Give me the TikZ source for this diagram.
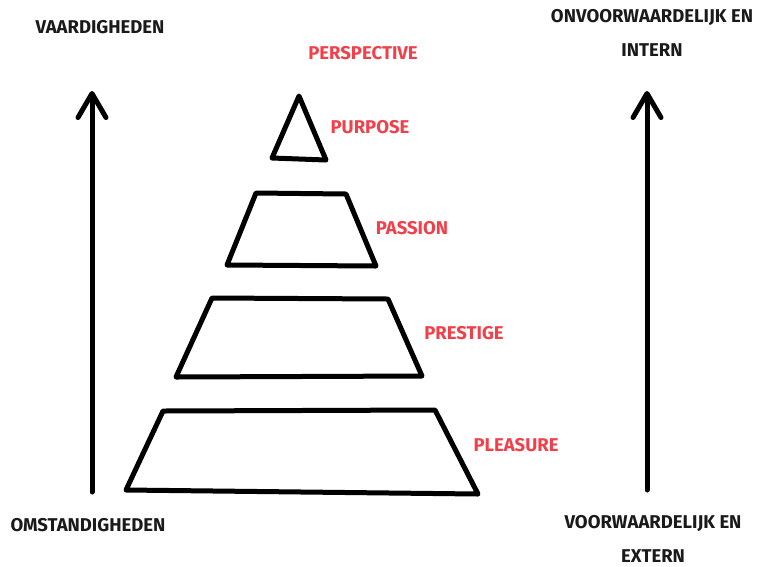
\documentclass[tikz,border=0pt]{standalone}
\usepackage{fontspec}
\setmainfont{Fira Sans}
\usetikzlibrary{arrows.meta}
\definecolor{lblred}{HTML}{F2404A}
\definecolor{ink}{HTML}{1A1A1A}
\tikzset{
  shapeline/.style={draw=black, line width=5pt, line join=round, line cap=round},
  bigarrow/.style={draw=black, line width=5pt, line cap=round, -{Straight Barb[length=24pt,width=28pt,round]}},
  redlbl/.style={text=lblred, font=\fontsize{18.5}{22}\selectfont\bfseries, inner sep=0pt},
  blklbl/.style={text=ink, font=\fontsize{18.5}{22}\selectfont\bfseries, inner sep=0pt},
}
\begin{document}
\begin{tikzpicture}[x=1pt,y=-1pt]
\useasboundingbox (0,0) rectangle (762,566);
% arrows
\coordinate (la0) at (92,492); \coordinate (la1) at (92,91);
\coordinate (ra0) at (647,490); \coordinate (ra1) at (647,91);
\draw[bigarrow] (la0) -- (la1);
\draw[bigarrow] (ra0) -- (ra1);
% pyramid pieces
\draw[shapeline] (299,96) -- (326,160) -- (272,158) -- cycle;
\draw[shapeline] (256,193) -- (346,194) -- (376,266) -- (227,265) -- cycle;
\draw[shapeline] (212,298) -- (388,299) -- (422,376) -- (176,377) -- cycle;
\draw[shapeline] (163,411) -- (435,410) -- (478,494) -- (126,490) -- cycle;
% red labels
\node[redlbl] (persp) at (363,53) {PERSPECTIVE};
\node[redlbl] (purp) at (370,127) {PURPOSE};
\node[redlbl] (pass) at (412,228) {PASSION};
\node[redlbl] (prest) at (464,333) {PRESTIGE};
\node[redlbl] (pleas) at (516,445) {PLEASURE};
% black labels
\node[blklbl] (vaard) at (100,27) {VAARDIGHEDEN};
\node[blklbl] (onv) at (652,17) {ONVOORWAARDELIJK EN};
\node[blklbl] (intern) at (652,50) {INTERN};
\node[blklbl] (omst) at (88,525) {OMSTANDIGHEDEN};
\node[blklbl] (voorw) at (653,523) {VOORWAARDELIJK EN};
\node[blklbl] (extern) at (653,556) {EXTERN};
\end{tikzpicture}
\end{document}
